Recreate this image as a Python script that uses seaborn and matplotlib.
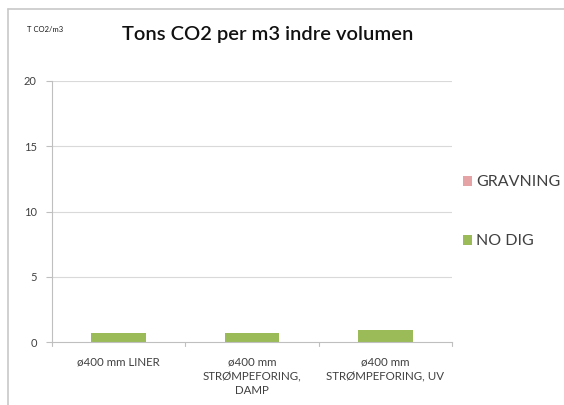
import matplotlib
matplotlib.use("Agg")
import matplotlib.pyplot as plt
from matplotlib.patches import Patch
from matplotlib.lines import Line2D
import seaborn as sns
import pandas as pd

categories = ["ø400 mm LINER", "ø400 mm\nSTRØMPEFORING,\nDAMP", "ø400 mm\nSTRØMPEFORING, UV"]
no_dig = [0.73, 0.69, 0.92]
gravning = [0.0, 0.0, 0.0]
series_names = ["GRAVNING", "NO DIG"]
y_ticks = [0, 5, 10, 15, 20]

green = "#9BBB59"
pink = "#E6A3A5"
grid_c = "#D9D9D9"
axis_c = "#BFBFBF"
text_c = "#404040"

sns.set_theme(style="white")
plt.rcParams["font.family"] = ["Lato", "DejaVu Sans"]

df = pd.DataFrame({"cat": categories, "NO DIG": no_dig, "GRAVNING": gravning})

fig = plt.figure(figsize=(5.64, 4.05), dpi=100)
ax = fig.add_axes([0.0922, 0.1548, 0.7092, 0.6452])

sns.barplot(data=df, x="cat", y="NO DIG", color=green, width=0.41,
            saturation=1, ax=ax, edgecolor="none")
sns.barplot(data=df, x="cat", y="GRAVNING", color=pink, width=0.41,
            saturation=1, ax=ax, edgecolor="none", bottom=df["NO DIG"])

ax.set_ylim(0, 20)
ax.set_xlim(-0.5, 2.5)
ax.set_yticks(y_ticks)
ax.set_yticklabels([str(v) for v in y_ticks], fontsize=8, color=text_c)
ax.tick_params(axis="y", length=4, width=0.8, color=axis_c, pad=7, left=True)
ax.tick_params(axis="x", length=0, pad=10, labelsize=8.3, labelcolor=text_c)
ax.set_xticks(range(len(categories)))
ax.set_xticklabels(categories, linespacing=1.4, va="top")
ax.set_xlabel("")
ax.set_ylabel("")

# category boundary ticks on the x axis
for b in [-0.5, 0.5, 1.5, 2.5]:
    ax.plot([b, b], [0, -0.3], color=axis_c, lw=0.8, clip_on=False)

for v in y_ticks[1:]:
    ax.axhline(v, color=grid_c, lw=0.8, zorder=0)

for side in ["top", "right"]:
    ax.spines[side].set_visible(False)
ax.spines["left"].set_color(axis_c)
ax.spines["bottom"].set_color(axis_c)
ax.spines["left"].set_linewidth(0.8)
ax.spines["bottom"].set_linewidth(0.8)

fig.text(0.475, 0.916, "Tons CO2 per m3 indre volumen", ha="center", va="center",
         fontsize=14.5, color="#111111", fontweight="semibold")
fig.text(0.048, 0.928, "T CO2/m3", ha="left", va="center", fontsize=5.5, color="#1a1a1a")

handles = [Patch(facecolor=pink, edgecolor="none"), Patch(facecolor=green, edgecolor="none")]
fig.legend(handles, series_names, loc="center left", bbox_to_anchor=(0.821, 0.477),
           frameon=False, fontsize=11.5, handlelength=0.58, handleheight=0.58,
           handletextpad=0.25, labelspacing=2.8, labelcolor=text_c,
           borderpad=0, borderaxespad=0)

# outer chart frame
fig.add_artist(Line2D([0.0142, 1.0], [0.978, 0.978], color="#C8C8C8", lw=1.2, transform=fig.transFigure))
fig.add_artist(Line2D([0.0142, 0.0142], [0.0, 0.978], color="#C8C8C8", lw=1.2, transform=fig.transFigure))

fig.savefig("out.png", dpi=100)
